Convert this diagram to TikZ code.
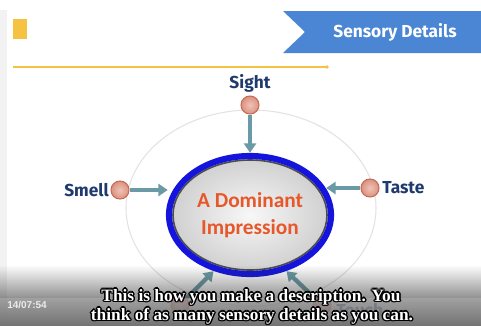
\documentclass[tikz,border=0pt]{standalone}
\usepackage{fontspec}
\setmainfont{Liberation Serif}
\newfontfamily\labfont{Fira Sans}
\newfontfamily\domfont{Carlito}
\newfontfamily\tsfont{Liberation Sans}
\usetikzlibrary{arrows.meta,shapes.geometric,fadings,calc}
\definecolor{navy}{HTML}{1F3B6E}
\definecolor{bannerblue}{HTML}{4A86D4}
\definecolor{ygold}{HTML}{F5C242}
\definecolor{domorange}{HTML}{E8572A}
\definecolor{ringblue}{HTML}{1414DC}
\definecolor{arrteal}{HTML}{6A9AA5}
\definecolor{dotfill}{HTML}{E69A86}
\definecolor{dotline}{HTML}{C86A58}
\tikzfading[name=barfade, top color=transparent!100, bottom color=transparent!0]
\newcommand{\subline}[3]{%
  \foreach \dx/\dy in {-1/0,1/0,0/-1,0/1,-1/-1,1/1,-1/1,1/-1,-1.5/0,1.5/0,0/1.5,0/-1.5}{
    \node[subtxt, text=black] at ($(#1,#2)+(\dx,\dy)$) {#3};}
  \node[subtxt, text=white] at (#1,#2) {#3};}
\begin{document}
\begin{tikzpicture}[x=0.75pt,y=-0.75pt,
  lab/.style={font=\labfont\bfseries\fontsize{13}{15}\selectfont, text=navy, inner sep=0pt},
  dot/.style={circle, minimum size=13.5pt, inner sep=0pt, draw=dotline, line width=0.8pt, inner color=dotfill!60!white, outer color=dotfill!95!black},
  arr/.style={draw=arrteal, line width=3.2pt, -{Triangle[width=9pt,length=7pt]}},
  subtxt/.style={font=\bfseries\fontsize{13}{15}\selectfont, inner sep=0pt}]
\useasboundingbox (0,0) rectangle (481,326);
\fill[white] (0,0) rectangle (481,326);
\fill[gray!10] (0,10) rectangle (7,326);
% header
\fill[ygold] (13,19) rectangle (27,39);
\draw[ygold, line width=1.2pt] (13,67) -- (327,67);
\fill[ygold] (327,67) circle (1.8);
\fill[bannerblue] (283,11) -- (481,11) -- (481,53) -- (283,53) -- (305,32) -- cycle;
\node[font=\labfont\bfseries\fontsize{13}{15}\selectfont, text=white] (title) at (395,32) {Sensory Details};
% faint outer ellipse
\draw[gray!22, line width=0.8pt] (251,208) ellipse (125 and 98);
% central ellipse
\shade[inner color=gray!6, outer color=gray!38] (250,215) ellipse (81 and 59);
\draw[black!70, line width=1.2pt] (250,215) ellipse (77 and 55);
\draw[ringblue, line width=4.6pt] (250,215) ellipse (81 and 59);
\node[ellipse, minimum width=126pt, minimum height=93pt, inner sep=0pt, align=center,
  font=\domfont\bfseries\fontsize{16}{20}\selectfont, text=domorange] (dom) at (250,215) {A Dominant\\Impression};
% satellites
\node[dot] (sight) at (250,105) {};
\node[lab] (sightlab) at (250,83) {Sight};
\node[dot] (smell) at (120,190) {};
\node[lab, anchor=east] (smelllab) at (109,190) {Smell};
\node[dot] (taste) at (370,188) {};
\node[lab, anchor=west] (tastelab) at (382,188) {Taste};
\node[dot] (hear) at (180,305) {};
\node[dot] (touch) at (322,305) {};
\node[lab, anchor=west, text=navy!80] (touchlab) at (336,310) {Touch};
\draw[arr] (sight) -- (dom.north);
\draw[arr] (smell) -- ($(smell -| dom.west)+(2,0)$);
\draw[arr] (taste) -- ($(taste -| dom.east)+(-8,0)$);
\draw[arr] (hear) -- (dom.237);
\draw[arr] (touch) -- (dom.303);
% video bar
\fill[black!80, path fading=barfade] (0,265) rectangle (481,326);
\fill[black!30, opacity=0.5] (0,298) rectangle (481,326);
\node[font=\tsfont\bfseries\fontsize{7.5}{9}\selectfont, text=white!92!black, anchor=west, inner sep=0pt] (stamp) at (7,305) {14/07:54};
\subline{251}{297}{This is how you make a description. You}
\subline{252}{316}{think of as many sensory details as you can.}
\end{tikzpicture}
\end{document}
